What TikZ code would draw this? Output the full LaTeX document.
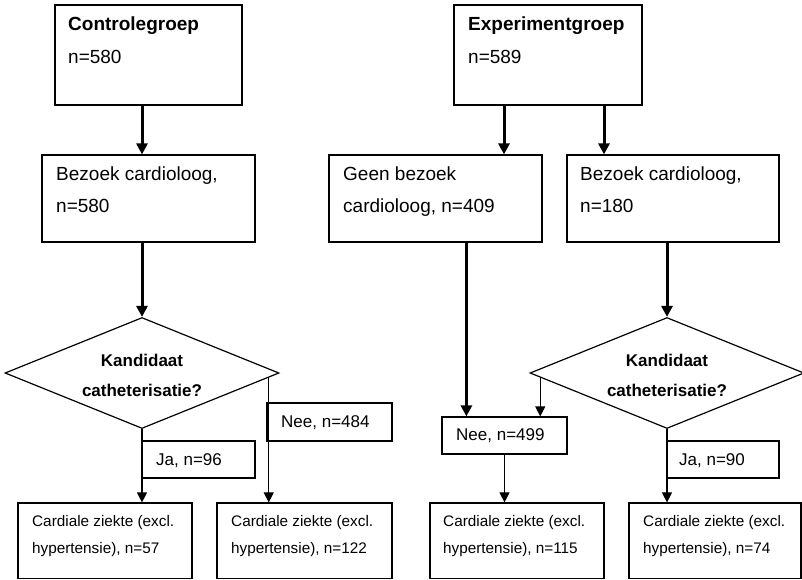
\documentclass[tikz,border=0pt]{standalone}
\usepackage{fontspec}
\setmainfont{Liberation Sans}
\usetikzlibrary{arrows.meta,shapes.geometric}

\begin{document}
\begin{tikzpicture}[x=1pt,y=-1pt,
  box/.style={draw, rectangle, line width=1.2pt, inner sep=0pt},
  decision/.style={draw, diamond, line width=1.2pt, inner sep=0pt,
    minimum width=274pt, minimum height=111pt},
  txt/.style={inner sep=0pt, align=left},
  big/.style={font=\fontsize{19}{32}\selectfont},
  mid/.style={font=\fontsize{17}{30}\selectfont},
  small/.style={font=\fontsize{15.3}{26.7}\selectfont},
  main/.style={line width=3pt, -{Triangle[width=11pt,length=11pt]}},
  branch/.style={line width=1.1pt, -{Triangle[width=10pt,length=10pt]}}]

\useasboundingbox (0,0) rectangle (802,580);

% ---- boxes ----
\node[box, minimum width=187pt, minimum height=100pt] (ctrl) at (148.5,55) {};
\node[box, minimum width=213pt, minimum height=87pt] (bzL) at (148.5,198.5) {};
\node[decision] (dL) at (142,373) {};
\node[box, minimum width=125pt, minimum height=38pt] (n484) at (329.5,422) {};
\node[box, minimum width=113pt, minimum height=37pt] (ja96) at (198.5,459.5) {};
\node[box, minimum width=174pt, minimum height=75.5pt] (b1) at (105,540.75) {};
\node[box, minimum width=175pt, minimum height=75.5pt] (b2) at (304.5,540.75) {};

\node[box, minimum width=188pt, minimum height=100pt] (exp) at (548,55) {};
\node[box, minimum width=213pt, minimum height=87pt] (geen) at (435.5,198.5) {};
\node[box, minimum width=212pt, minimum height=87pt] (bzR) at (673,198.5) {};
\node[decision] (dR) at (667,373) {};
\node[box, minimum width=125pt, minimum height=37pt] (n499) at (504.5,435.5) {};
\node[box, minimum width=112pt, minimum height=37pt] (ja90) at (723,459.5) {};
\node[box, minimum width=174pt, minimum height=75.5pt] (b3) at (517,540.75) {};
\node[box, minimum width=172pt, minimum height=75.5pt] (b4) at (715,540.75) {};

% ---- texts ----
\node[txt, big, anchor=north west] (ctrlT) at (68,16.8)
  {\textbf{Controlegroep}\\[1pt]n=580};
\node[txt, big, anchor=north west] (expT) at (468,16.8)
  {\textbf{Experimentgroep}\\[1pt]n=589};
\node[txt, big, anchor=north west] (bzLT) at (56,166.3)
  {Bezoek cardioloog,\\n=580};
\node[txt, big, anchor=north west] (geenT) at (343,166.3)
  {Geen bezoek\\cardioloog, n=409};
\node[txt, big, anchor=north west] (bzRT) at (580,166.3)
  {Bezoek cardioloog,\\n=180};
\node[txt, mid, align=center, anchor=north, font=\bfseries\fontsize{17}{30}\selectfont] (dLT) at (142,353.5)
  {Kandidaat\\catheterisatie?};
\node[txt, mid, align=center, anchor=north, font=\bfseries\fontsize{17}{30}\selectfont] (dRT) at (667,353.5)
  {Kandidaat\\catheterisatie?};
\node[txt, mid, anchor=base west] (n484T) at (281,427.3) {Nee, n=484};
\node[txt, mid, anchor=base west] (ja96T) at (156,465) {Ja, n=96};
\node[txt, mid, anchor=base west] (n499T) at (456,440) {Nee, n=499};
\node[txt, mid, anchor=base west] (ja90T) at (679,465) {Ja, n=90};
\node[txt, small, anchor=north west] (b1T) at (32,515.6)
  {Cardiale ziekte (excl.\\hypertensie), n=57};
\node[txt, small, anchor=north west] (b2T) at (231,515.6)
  {Cardiale ziekte (excl.\\hypertensie), n=122};
\node[txt, small, anchor=north west] (b3T) at (443,515.6)
  {Cardiale ziekte (excl.\\hypertensie), n=115};
\node[txt, small, anchor=north west] (b4T) at (643,515.6)
  {Cardiale ziekte (excl.\\hypertensie), n=74};

% ---- connectors: control group ----
\draw[main] (dL.north |- ctrl.south) -- (dL.north |- bzL.north);
\draw[main] (dL.north |- bzL.south) -- (dL.north);
\draw[branch] (dL.south) -- (dL.south |- b1.north);
\draw[branch] (dL.-2.2) -- (dL.-2.2 |- b2.north);

% ---- connectors: experiment group ----
\draw[main] ([xshift=-44pt]exp.south) -- ([xshift=-44pt]exp.south |- geen.north);
\draw[main] ([xshift=56pt]exp.south) -- ([xshift=56pt]exp.south |- bzR.north);
\draw[main] ([xshift=138pt]geen.south west) -- ([xshift=138pt]geen.south west |- n499.north);
\draw[main] (dR.north |- bzR.south) -- (dR.north);
\draw[branch] (dR.182.2) -- (dR.182.2 |- n499.north);
\draw[branch] (n499.south) -- (n499.south |- b3.north);
\draw[branch] (dR.south) -- (dR.south |- b4.north);

\end{tikzpicture}
\end{document}
